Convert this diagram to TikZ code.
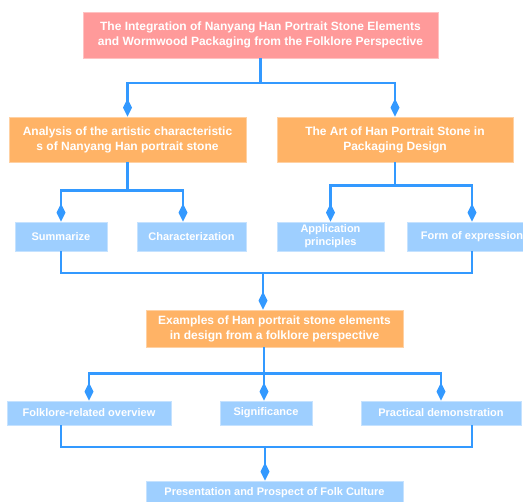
\documentclass[tikz,border=0pt]{standalone}
\usepackage{fontspec}
\setmainfont{Liberation Sans}
\usetikzlibrary{arrows.meta}
\definecolor{pinkbox}{HTML}{FF9A9A}
\definecolor{orangebox}{HTML}{FFB366}
\definecolor{bluebox}{HTML}{9ECFFF}
\definecolor{lineblue}{HTML}{3399FF}
\tikzset{
  box/.style={inner sep=0pt, align=center, text=white, line width=0.8pt},
  pinkb/.style={box, fill=pinkbox, draw=pinkbox!60!white, font=\fontsize{12}{14.7}\selectfont\bfseries},
  orangeb/.style={box, fill=orangebox, draw=orangebox!60!white, font=\fontsize{12}{15}\selectfont\bfseries},
  blueb/.style={box, fill=bluebox, draw=bluebox!60!white, font=\fontsize{11}{13}\selectfont\bfseries},
  conn/.style={draw=lineblue, line width=2.5pt},
  tipline/.style={conn, -{Diamond[length=18pt,width=9pt,fill=lineblue]}}
}
\begin{document}
\begin{tikzpicture}[x=1pt,y=-1pt]
\useasboundingbox (0,0) rectangle (523,502);
\fill[white] (0,0) rectangle (523,502);
% nodes
\node[pinkb, minimum width=355pt, minimum height=46pt] (top) at (260.5,35) {The Integration of Nanyang Han Portrait Stone Elements\\and Wormwood Packaging from the Folklore Perspective};
\node[orangeb, minimum width=237pt, minimum height=45pt] (A1) at (127.5,139.5) {Analysis of the artistic characteristic\\s of Nanyang Han portrait stone};
\node[orangeb, minimum width=236pt, minimum height=45pt] (A2) at (395,139.5) {The Art of Han Portrait Stone in\\Packaging Design};
\node[blueb, minimum width=92pt, minimum height=29pt] (B1) at (61,236.5) {Summarize};
\node[blueb, minimum width=109pt, minimum height=29pt] (B2) at (191.5,236.5) {Characterization};
\node[blueb, minimum width=107pt, minimum height=29pt] (B3) at (330.5,236.5) {Application\\principles};
\node[blueb, minimum width=130pt, minimum height=29pt] (B4) at (472,236.5) {Form of expression};
\node[orangeb, minimum width=257pt, minimum height=37pt] (C) at (274.5,328.5) {Examples of Han portrait stone elements\\in design from a folklore perspective};
\node[blueb, minimum width=164pt, minimum height=24pt] (D1) at (89,413) {Folklore-related overview};
\node[blueb, minimum width=92pt, minimum height=24pt] (D2) at (266,413) {Significance};
\node[blueb, minimum width=160pt, minimum height=24pt] (D3) at (441,413) {Practical demonstration};
\node[blueb, minimum width=257pt, minimum height=24pt] (E) at (274.5,493) {Presentation and Prospect of Folk Culture};
% connectors level 1
\coordinate (j1) at (260.5,83);
\draw[conn] (top.south) -- (j1);
\draw[tipline] (j1) -| (A1.north);
\draw[tipline] (j1) -| (A2.north);
% level 2
\draw[conn] (A1.south) -- ++(0,28) coordinate (j2);
\draw[tipline] (j2) -| (B1.north);
\draw[tipline] (j2) -| ([xshift=-8.5pt]B2.north);
\draw[conn] (A2.south) -- ++(0,23) coordinate (j3);
\draw[tipline] (j3) -| (B3.north);
\draw[tipline] (j3) -| (B4.north);
% merge to C
\coordinate (j4) at (263,273);
\draw[conn] (B1.south) |- (j4) -| (B4.south);
\draw[tipline] (j4) -- ([xshift=-11.5pt]C.north);
% level 3
\draw[conn] ([xshift=-10.5pt]C.south) -- ++(0,26) coordinate (j5);
\draw[tipline] (j5) -| (D1.north);
\draw[tipline] (j5) -- ([xshift=-2pt]D2.north);
\draw[tipline] (j5) -| (D3.north);
% merge to E
\coordinate (j6) at (265,447);
\draw[conn] ([xshift=-28pt]D1.south) |- (j6) -| ([xshift=31pt]D3.south);
\draw[tipline] (j6) -- ([xshift=-9.5pt]E.north);
\end{tikzpicture}
\end{document}
